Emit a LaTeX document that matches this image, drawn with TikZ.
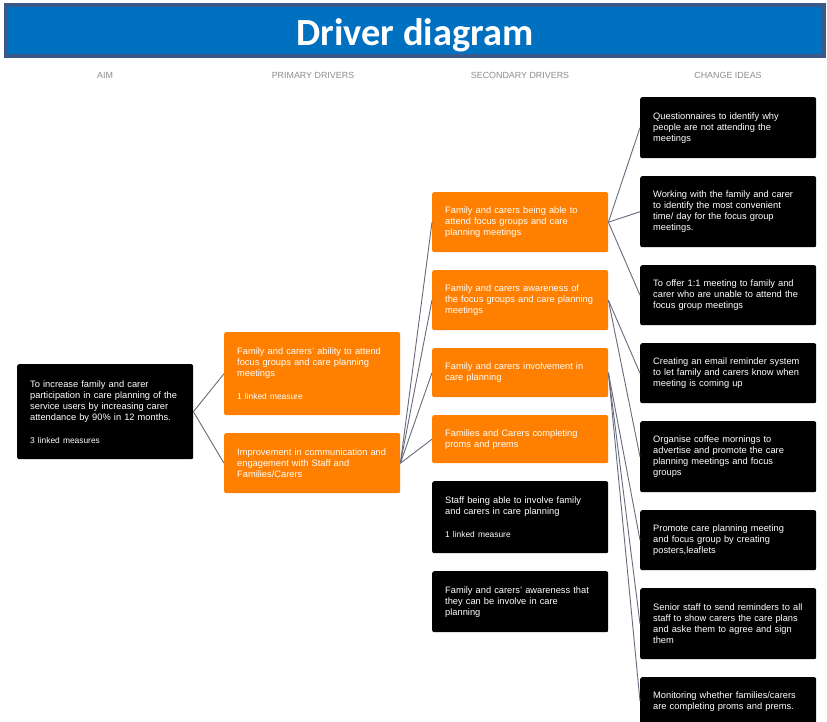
\documentclass[tikz,border=0pt]{standalone}
\usepackage{fontspec}
\setmainfont{Liberation Sans}
\newfontfamily\titlefont{Carlito}
\usepackage{tikz}

\definecolor{barblue}{RGB}{0,112,192}
\definecolor{baredge}{RGB}{59,89,136}
\definecolor{drvorange}{RGB}{255,128,0}
\definecolor{linkgray}{RGB}{105,105,125}
\definecolor{headgray}{RGB}{140,140,140}

\hyphenpenalty=10000
\newcommand{\measure}[1]{{\fontsize{8.4}{10}\selectfont #1}}

\begin{document}
\begin{tikzpicture}[x=1pt,y=-1pt,
  box/.style={anchor=north west, rounded corners=2pt, text=white,
    text width=150pt, inner xsep=13pt, inner ysep=0pt, align=left,
    font=\fontsize{9.3}{11}\selectfont},
  darkbox/.style={box, fill=black},
  drvbox/.style={box, fill=drvorange},
  head/.style={anchor=base, text=headgray, font=\fontsize{8.9}{10}\selectfont},
  link/.style={draw=linkgray, line width=0.9pt}]
  \useasboundingbox (0,0) rectangle (827,721);

  % barra del titulo
  \draw[line width=4pt, draw=baredge, fill=barblue] (6,5) rectangle (824,56);
  \node[anchor=base, text=white, font=\titlefont\bfseries\fontsize{38.4}{42}\selectfont]
    (title) at (415,45) {Driver diagram};

  \node[head] (hAim) at (105,78) {AIM};
  \node[head] (hPrim) at (313,78) {PRIMARY DRIVERS};
  \node[head] (hSec) at (520,78) {SECONDARY DRIVERS};
  \node[head] (hIdea) at (728,78) {CHANGE IDEAS};

  % objetivo
  \node[darkbox, minimum height=95pt] (aim) at (17,364)
    {To increase family and carer\\ participation in care planning of the\\
     service users by increasing carer\\ attendance by 90\% in 12 months.\\[12pt]
     \measure{3 linked measures}};

  % impulsores primarios
  \node[drvbox, minimum height=83pt] (prim1) at (224,332)
    {Family and carers' ability to attend\\ focus groups and care planning\\
     meetings\\[12pt] \measure{1 linked measure}};
  \node[drvbox, minimum height=60pt] (prim2) at (224,433)
    {Improvement in communication and\\ engagement with Staff and\\ Families/Carers};

  % impulsores secundarios
  \node[drvbox, minimum height=60pt] (sec1) at (432,192)
    {Family and carers being able to\\ attend focus groups and care\\ planning meetings};
  \node[drvbox, minimum height=60pt] (sec2) at (432,270)
    {Family and carers awareness of\\ the focus groups and care planning\\ meetings};
  \node[drvbox, minimum height=49pt] (sec3) at (432,348)
    {Family and carers involvement in\\ care planning};
  \node[drvbox, minimum height=48pt] (sec4) at (432,415)
    {Families and Carers completing\\ proms and prems};
  \node[darkbox, minimum height=72pt] (sec5) at (432,481)
    {Staff being able to involve family\\ and carers in care planning\\[12pt]
     \measure{1 linked measure}};
  \node[darkbox, minimum height=61pt] (sec6) at (432,571)
    {Family and carers' awareness that\\ they can be involve in care\\ planning};

  % ideas de cambio
  \node[darkbox, minimum height=61pt] (idea1) at (640,97)
    {Questionnaires to identify why\\ people are not attending the\\ meetings};
  \node[darkbox, minimum height=71pt] (idea2) at (640,176)
    {Working with the family and carer\\ to identify the most convenient\\
     time/ day for the focus group\\ meetings.};
  \node[darkbox, minimum height=60pt] (idea3) at (640,265)
    {To offer 1:1 meeting to family and\\ carer who are unable to attend the\\
     focus group meetings};
  \node[darkbox, minimum height=60pt] (idea4) at (640,343)
    {Creating an email reminder system\\ to let family and carers know when\\
     meeting is coming up};
  \node[darkbox, minimum height=71pt] (idea5) at (640,421)
    {Organise coffee mornings to\\ advertise and promote the care\\
     planning meetings and focus\\ groups};
  \node[darkbox, minimum height=60pt] (idea6) at (640,510)
    {Promote care planning meeting\\ and focus group by creating\\ posters,leaflets};
  \node[darkbox, minimum height=71pt] (idea7) at (640,588)
    {Senior staff to send reminders to all\\ staff to show carers the care plans\\
     and aske them to agree and sign\\ them};
  \node[darkbox, minimum height=48pt] (idea8) at (640,677)
    {Monitoring whether families/carers\\ are completing proms and prems.};

  % conectores
  \foreach \p in {prim1,prim2} {
    \draw[link] (aim.east) -- (\p.west);
  }
  \foreach \s in {sec1,sec2,sec3,sec4} {
    \draw[link] (prim2.east) -- (\s.west);
  }
  \foreach \i in {idea1,idea2,idea3} {
    \draw[link] (sec1.east) -- (\i.west);
  }
  \foreach \i in {idea4,idea5} {
    \draw[link] (sec2.east) -- (\i.west);
  }
  \foreach \i in {idea6,idea7,idea8} {
    \draw[link] (sec3.east) -- (\i.west);
  }
\end{tikzpicture}
\end{document}
